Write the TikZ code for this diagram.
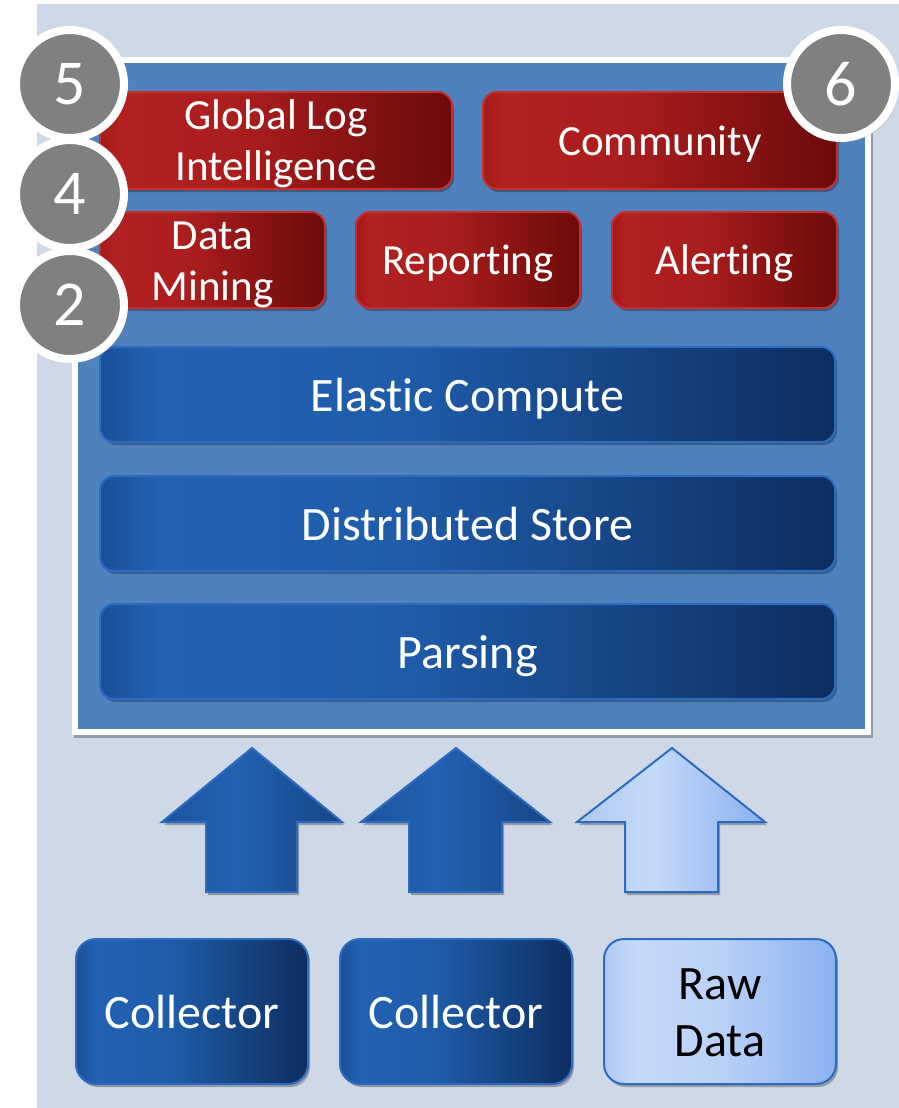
\documentclass[tikz,border=0pt]{standalone}
\usepackage{fontspec}
\setmainfont{Carlito}[Ligatures=NoCommon]
\usetikzlibrary{shadows}

\definecolor{pagebg}{HTML}{CFD8E6}
\definecolor{platform}{HTML}{4F81BD}
\definecolor{redA}{HTML}{A31B1B}
\definecolor{redB}{HTML}{B42020}
\definecolor{redC}{HTML}{AB1D1D}
\definecolor{redD}{HTML}{6C0A0A}
\definecolor{redline}{HTML}{C4302D}
\definecolor{blueA}{HTML}{1A4F99}
\definecolor{blueB}{HTML}{2262B2}
\definecolor{blueC}{HTML}{1F5DAB}
\definecolor{blueD}{HTML}{0D2E60}
\definecolor{blueline}{HTML}{2D6BBF}
\definecolor{lightA}{HTML}{AFC9F5}
\definecolor{lightB}{HTML}{C5D9F9}
\definecolor{lightC}{HTML}{BAD1F7}
\definecolor{lightD}{HTML}{8AB1F2}
\definecolor{arrA}{HTML}{1B54A0}
\definecolor{arrB}{HTML}{2262B2}
\definecolor{arrD}{HTML}{164585}
\definecolor{badge}{HTML}{808080}

% left-to-right gradients; the path spans 25bp..75bp of each shading
\pgfdeclarehorizontalshading{redgrad}{100bp}{color(0bp)=(redA); color(25bp)=(redA); color(28bp)=(redB); color(45bp)=(redC); color(75bp)=(redD); color(100bp)=(redD)}
\pgfdeclarehorizontalshading{bluegrad}{100bp}{color(0bp)=(blueA); color(25bp)=(blueA); color(29bp)=(blueB); color(45bp)=(blueC); color(75bp)=(blueD); color(100bp)=(blueD)}
\pgfdeclarehorizontalshading{lightgrad}{100bp}{color(0bp)=(lightA); color(25bp)=(lightA); color(32bp)=(lightB); color(50bp)=(lightC); color(75bp)=(lightD); color(100bp)=(lightD)}
\pgfdeclarehorizontalshading{darkarrow}{100bp}{color(0bp)=(arrA); color(25bp)=(arrA); color(45bp)=(arrB); color(75bp)=(arrD); color(100bp)=(arrD)}
\pgfdeclarehorizontalshading{lightarrow}{100bp}{color(0bp)=(lightA); color(25bp)=(lightA); color(45bp)=(lightB); color(75bp)=(lightD); color(100bp)=(lightD)}

\tikzset{
  softshadow/.style={drop shadow={shadow xshift=2pt, shadow yshift=-3pt, opacity=.28, fill=black}},
  % fixed text height/depth keep the capitals centred in each box
  redbox/.style={rectangle, rounded corners=14pt, shading=redgrad, draw=redline, line width=2pt,
    softshadow, text=white, align=center, inner sep=0pt,
    text height=29pt, text depth=0pt,
    font=\fontsize{43}{51}\selectfont},
  twolines/.style={text height=80pt},
  bluebar/.style={rectangle, rounded corners=14pt, shading=bluegrad, draw=blueline, line width=2pt,
    softshadow, text=white, align=center, inner sep=0pt,
    text height=33pt, text depth=0pt,
    minimum width=735pt, minimum height=95pt, font=\fontsize{48}{57}\selectfont},
  srcbox/.style={rectangle, rounded corners=20pt, draw=blueline, line width=2pt,
    softshadow, align=center, inner sep=0pt,
    text height=33pt, text depth=0pt,
    minimum width=232pt, minimum height=145pt, font=\fontsize{48}{57}\selectfont},
  darksrc/.style={srcbox, shading=bluegrad, text=white},
  lightsrc/.style={srcbox, shading=lightgrad, text=black, text height=89pt},
  blockarrow/.style={draw=blueline, line width=2pt, softshadow, line join=miter},
  numbadge/.style={circle, fill=badge, draw=white, line width=8pt, minimum size=108pt,
    inner sep=0pt, text=white, font=\fontsize{64}{64}\selectfont,
    drop shadow={shadow xshift=3pt, shadow yshift=-3pt, opacity=.3, fill=black}}
}

\begin{document}
\begin{tikzpicture}[x=1pt,y=-1pt]
\useasboundingbox (0,0) rectangle (899,1108);

% page panel
\fill[pagebg] (37,4) rectangle (899,1108);

% platform frame
\fill[white, softshadow] (72,57) rectangle (871,735);
\fill[platform] (78,63) rectangle (865,729);

% application layer
\node[redbox, twolines, minimum width=352pt, minimum height=97pt] (gli) at (276,140.5) {Global Log\\Intelligence};
\node[redbox, minimum width=354pt, minimum height=97pt] (comm)  at (660,140.5) {Community};
\node[redbox, twolines, minimum width=225pt, minimum height=96pt] (mine) at (212.5,260) {Data\\Mining};
\node[redbox, minimum width=224pt, minimum height=96pt] (rep)   at (468,260)   {Reporting};
\node[redbox, minimum width=225pt, minimum height=96pt] (alert) at (724.5,260) {Alerting};

% core layers
\node[bluebar] (compute) at (467.5,394.5) {Elastic Compute};
\node[bluebar] (store)   at (467.5,523.5) {Distributed Store};
\node[bluebar] (parse)   at (467.5,651.5) {Parsing};

% inputs
\node[darksrc]  (col1) at (192,1011.5) {Collector};
\node[darksrc]  (col2) at (456,1011.5) {Collector};
\node[lightsrc] (raw)  at (720,1011.5) {Raw\\Data};

% upward block arrows
\path[blockarrow, shade, shading=darkarrow]
  (252,748) -- (342,822) -- (297,822) -- (297,892) -- (206,892) -- (206,822) -- (162,822) -- cycle;
\path[blockarrow, shade, shading=darkarrow]
  (456,748) -- (550,822) -- (502,822) -- (502,892) -- (409,892) -- (409,822) -- (361,822) -- cycle;
\path[blockarrow, shade, shading=lightarrow]
  (672,748) -- (765,822) -- (718,822) -- (718,892) -- (625,892) -- (625,822) -- (577,822) -- cycle;

% numbered badges
\node[numbadge] (n5) at (70,84)  {5};
\node[numbadge] (n4) at (70,194) {4};
\node[numbadge] (n2) at (70,305) {2};
\node[numbadge] (n6) at (841,84) {6};
\end{tikzpicture}
\end{document}
